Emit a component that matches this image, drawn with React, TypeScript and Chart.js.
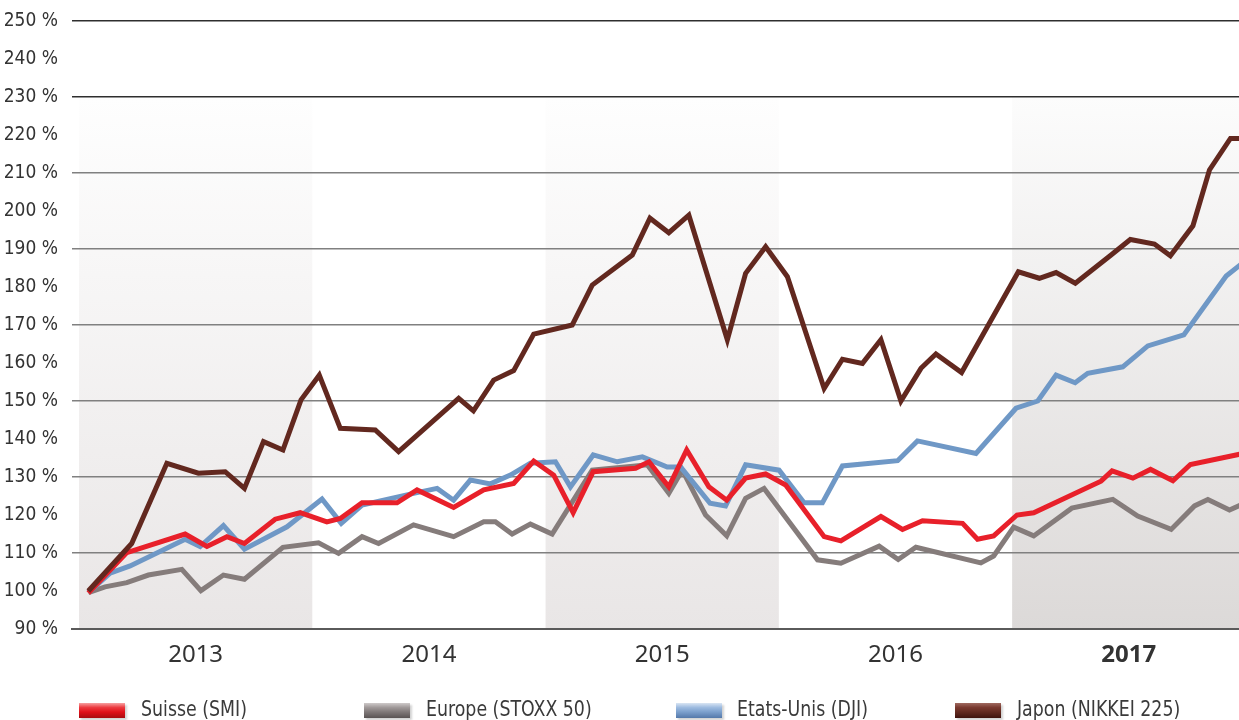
import React, { useEffect, useRef } from "react";
import { Chart, registerables } from "chart.js";

Chart.register(...registerables);

// ---- Data (x = months since Jan 2013, y = index in %) ----
const yearLabels = ["2013", "2014", "2015", "2016", "2017"];
const yearTickMonths = [6, 18, 30, 42, 54];
const shadedYearStarts = [0, 24, 48];
const yTickStep = 10;

const smiX = [0.48, 2.46, 5.46, 6.58, 7.61, 8.51, 10.09, 11.38, 12.75, 13.44, 14.56, 16.36, 17.39, 19.27, 20.82, 22.36, 23.39, 24.42, 25.42, 26.45, 28.63, 29.32, 30.34, 31.26, 32.4, 33.32, 34.29, 35.32, 36.35, 38.33, 39.19, 41.25, 42.36, 43.39, 45.45, 46.22, 47.05, 48.25, 49.11, 52.57, 53.14, 54.21, 55.12, 56.27, 57.17, 59.9];
const smiY = [99.5, 110.1, 115.0, 111.7, 114.3, 112.5, 118.9, 120.6, 118.2, 119.1, 123.2, 123.2, 126.6, 122.0, 126.6, 128.3, 134.2, 130.5, 120.6, 131.4, 132.3, 134.0, 127.4, 137.1, 127.4, 123.9, 129.7, 130.8, 127.9, 114.3, 113.2, 119.6, 116.2, 118.5, 117.8, 113.6, 114.5, 120.0, 120.6, 128.9, 131.6, 129.7, 132.0, 129.0, 133.3, 136.2];

const stoxxX = [0.48, 1.34, 2.46, 3.57, 5.29, 6.27, 7.43, 8.51, 10.49, 12.32, 13.35, 14.56, 15.41, 17.21, 19.27, 20.82, 21.42, 22.28, 23.22, 24.34, 26.4, 29.23, 30.34, 31.03, 32.23, 33.32, 34.29, 35.24, 37.99, 39.19, 41.16, 42.14, 43.05, 46.39, 47.05, 48.08, 49.11, 51.07, 53.18, 54.46, 56.18, 57.38, 58.07, 59.18, 59.9];
const stoxxY = [99.6, 101.1, 102.2, 104.2, 105.7, 100.1, 104.2, 103.1, 111.5, 112.7, 109.9, 114.3, 112.5, 117.4, 114.3, 118.2, 118.2, 115.0, 117.6, 115.0, 131.8, 133.2, 125.7, 131.8, 120.0, 114.5, 124.4, 127.0, 108.2, 107.3, 111.8, 108.3, 111.5, 107.4, 109.2, 116.8, 114.5, 121.8, 124.1, 119.7, 116.2, 122.4, 124.1, 121.3, 123.0];

const djiX = [0.48, 1.6, 2.63, 5.46, 6.23, 7.43, 8.51, 10.7, 12.5, 13.49, 14.56, 17.21, 18.42, 19.27, 20.13, 21.16, 22.19, 23.22, 24.51, 25.28, 26.45, 27.69, 28.98, 30.26, 30.95, 32.46, 33.26, 34.29, 36.01, 37.3, 38.24, 39.27, 42.11, 43.13, 46.14, 48.2, 49.32, 50.26, 51.24, 51.89, 53.69, 54.98, 56.83, 59.01, 59.9];
const djiY = [99.6, 104.7, 106.6, 113.6, 111.7, 117.2, 111.0, 116.9, 124.2, 117.8, 122.6, 125.7, 127.0, 123.9, 129.2, 128.2, 130.5, 133.6, 134.0, 127.4, 135.8, 134.0, 135.3, 132.6, 132.6, 123.1, 122.4, 133.2, 131.8, 123.2, 123.2, 132.9, 134.3, 139.5, 136.2, 148.1, 150.0, 156.8, 154.8, 157.3, 159.0, 164.5, 167.4, 182.9, 186.5];

const nikkeiX = [0.48, 2.71, 4.52, 6.14, 7.52, 8.51, 9.49, 10.49, 11.42, 12.36, 13.44, 15.24, 16.44, 19.53, 20.29, 21.33, 22.36, 23.39, 25.37, 26.4, 28.46, 29.37, 30.34, 31.37, 33.35, 34.29, 35.32, 36.44, 38.33, 39.27, 40.3, 41.25, 42.28, 43.31, 44.08, 45.4, 48.32, 49.4, 50.26, 51.25, 53.09, 54.08, 55.32, 56.14, 57.3, 58.15, 59.23, 59.9];
const nikkeiY = [100.0, 112.5, 133.6, 131.0, 131.4, 127.0, 139.3, 137.1, 150.3, 156.8, 142.8, 142.4, 136.7, 150.7, 147.4, 155.5, 158.0, 167.6, 170.0, 180.5, 188.4, 198.1, 194.3, 198.9, 166.1, 183.6, 190.6, 182.7, 153.3, 161.0, 159.9, 166.1, 150.0, 158.6, 162.4, 157.5, 184.0, 182.3, 183.8, 181.0, 188.4, 192.5, 191.3, 188.2, 196.1, 210.8, 219.1, 219.1];

const seriesNames = ["Suisse (SMI)", "Europe (STOXX 50)", "Etats-Unis (DJI)", "Japon (NIKKEI 225)"];

const CONDENSED = '"Liberation Sans Narrow", "DejaVu Sans Condensed", "Roboto Condensed", sans-serif';

const pts = (xs: number[], ys: number[]) => xs.map((x, i) => ({ x, y: ys[i] }));

const bandPlugin = {
  id: "yearBands",
  beforeDraw(chart: any) {
    const { ctx, chartArea, scales } = chart;
    const xs = scales.x;
    const ys = scales.y;
    const top = ys.getPixelForValue(230);
    const bottom = chartArea.bottom;
    ctx.save();
    shadedYearStarts.forEach((start) => {
      const x0 = Math.max(xs.getPixelForValue(start), chartArea.left);
      const x1 = Math.min(xs.getPixelForValue(start + 12), chartArea.right);
      const g = ctx.createLinearGradient(0, top, 0, bottom);
      if (start === 48) {
        g.addColorStop(0, "#fcfcfc");
        g.addColorStop(1, "#dcd9d8");
      } else {
        g.addColorStop(0, "#fefefe");
        g.addColorStop(1, "#e9e6e6");
      }
      ctx.fillStyle = g;
      ctx.fillRect(x0, top, x1 - x0, bottom - top);
    });
    ctx.restore();
  },
};

const legendItems = [
  { name: seriesNames[0], left: 79, textLeft: 141, grad: "linear-gradient(to bottom, #f7a0a0 0%, #ec3a40 30%, #e01019 60%, #a90b10 100%)" },
  { name: seriesNames[1], left: 364, textLeft: 426, grad: "linear-gradient(to bottom, #cfcaca 0%, #a09999 30%, #7f7878 60%, #5a5454 100%)" },
  { name: seriesNames[2], left: 676, textLeft: 737, grad: "linear-gradient(to bottom, #d9e5f3 0%, #9dbbe0 30%, #7b9fcc 60%, #5479aa 100%)" },
  { name: seriesNames[3], left: 955, textLeft: 1017, grad: "linear-gradient(to bottom, #a06a60 0%, #7a3a30 30%, #622a20 60%, #3f140e 100%)" },
];

export default function App() {
  const canvasRef = useRef<HTMLCanvasElement | null>(null);

  useEffect(() => {
    if (!canvasRef.current) return;
    const chart = new Chart(canvasRef.current, {
      type: "line",
      data: {
        datasets: [
          { label: seriesNames[3], data: pts(nikkeiX, nikkeiY), borderColor: "#62281f", borderWidth: 5 },
          { label: seriesNames[0], data: pts(smiX, smiY), borderColor: "#e8202a", borderWidth: 5 },
          { label: seriesNames[2], data: pts(djiX, djiY), borderColor: "#6f98c6", borderWidth: 5 },
          { label: seriesNames[1], data: pts(stoxxX, stoxxY), borderColor: "#857c7b", borderWidth: 5 },
        ].map((d) => ({ ...d, pointRadius: 0, tension: 0, fill: false, borderJoinStyle: "miter" as const, borderCapStyle: "butt" as const })),
      },
      options: {
        responsive: false,
        animation: false,
        events: [],
        layout: { padding: { top: 21, left: 0, right: 0, bottom: 0 } },
        plugins: { legend: { display: false }, tooltip: { enabled: false } },
        scales: {
          x: {
            type: "linear",
            min: -0.36,
            max: 59.67,
            afterBuildTicks: (s: any) => {
              s.ticks = yearTickMonths.map((v) => ({ value: v }));
            },
            afterFit: (s: any) => {
              s.height = 91;
              s.paddingLeft = 0;
              s.paddingRight = 0;
            },
            grid: { display: false, drawTicks: false },
            border: { display: true, color: "#5a5a5a", width: 2 },
            ticks: {
              padding: 12,
              autoSkip: false,
              maxRotation: 0,
              color: "#333333",
              font: (ctx: any) => ({
                family: '"Noto Sans", "Open Sans", sans-serif',
                size: 24,
                weight: ctx.tick && ctx.tick.value === 54 ? "bold" : "normal",
              }),
              callback: (v: any) => {
                const i = yearTickMonths.indexOf(Number(v));
                return i >= 0 ? yearLabels[i] : "";
              },
            },
          },
          y: {
            min: 90,
            max: 250,
            afterFit: (s: any) => {
              s.width = 72;
              s.paddingTop = 0;
              s.paddingBottom = 0;
            },
            border: { display: false },
            grid: {
              drawTicks: false,
              lineWidth: 1.5,
              color: (ctx: any) => {
                const v = ctx.tick ? ctx.tick.value : 0;
                if (v % 20 !== 10) return "rgba(0,0,0,0)";
                return v >= 230 ? "#2e2e2e" : "#808080";
              },
            },
            ticks: {
              stepSize: yTickStep,
              padding: 14,
              color: "#333333",
              font: { family: CONDENSED, size: 19 },
              callback: (v: any) => `${v} %`,
            },
          },
        },
      },
      plugins: [bandPlugin],
    });
    return () => chart.destroy();
  }, []);

  return (
    <div style={{ position: "fixed", left: 0, top: 0, width: 1239, height: 720, background: "#ffffff", overflow: "hidden" }}>
      <canvas ref={canvasRef} width={1239} height={720} style={{ position: "absolute", left: 0, top: 0, width: 1239, height: 720 }} />
      {legendItems.map((it) => (
        <React.Fragment key={it.name}>
          <div
            style={{
              position: "absolute",
              left: it.left,
              top: 703,
              width: 46,
              height: 15,
              background: it.grad,
              boxShadow: "2px 2px 2px rgba(0,0,0,0.18)",
            }}
          />
          <div
            style={{
              position: "absolute",
              left: it.textLeft,
              top: 699,
              fontFamily: CONDENSED,
              fontSize: 21,
              lineHeight: "21px",
              color: "#3a3a3a",
              whiteSpace: "nowrap",
              transform: "scaleX(0.92)",
              transformOrigin: "left center",
            }}
          >
            {it.name}
          </div>
        </React.Fragment>
      ))}
    </div>
  );
}
